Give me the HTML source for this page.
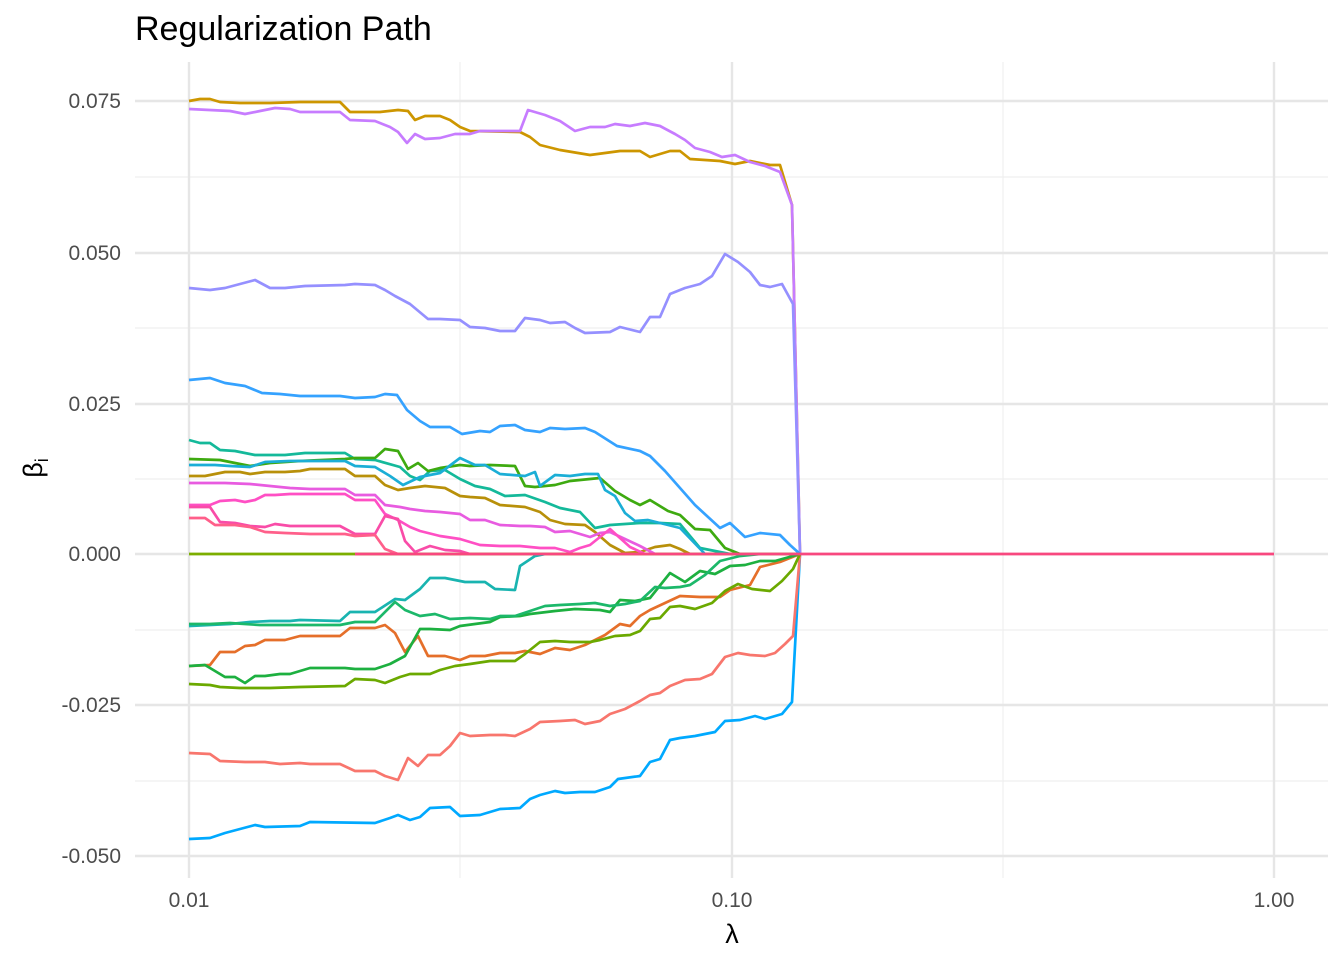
<!DOCTYPE html>
<html><head><meta charset="utf-8"><style>
body{margin:0;background:#fff;}
svg{display:block;font-family:"Liberation Sans",sans-serif;}
</style></head><body>
<svg width="1344" height="960" viewBox="0 0 1344 960" xmlns="http://www.w3.org/2000/svg">
<rect width="1344" height="960" fill="#fff"/>
<g stroke="#efefef" stroke-width="1.2">
<line x1="135" y1="177" x2="1328" y2="177"/><line x1="135" y1="328" x2="1328" y2="328"/>
<line x1="135" y1="479" x2="1328" y2="479"/><line x1="135" y1="630" x2="1328" y2="630"/>
<line x1="135" y1="781" x2="1328" y2="781"/>
<line x1="460" y1="62" x2="460" y2="878"/><line x1="1003" y1="62" x2="1003" y2="878"/>
</g>
<g stroke="#e6e6e6" stroke-width="2.4">
<line x1="135" y1="101" x2="1328" y2="101"/><line x1="135" y1="253" x2="1328" y2="253"/>
<line x1="135" y1="404" x2="1328" y2="404"/><line x1="135" y1="554" x2="1328" y2="554"/>
<line x1="135" y1="705" x2="1328" y2="705"/><line x1="135" y1="856" x2="1328" y2="856"/>
<line x1="189" y1="62" x2="189" y2="878"/><line x1="732" y1="62" x2="732" y2="878"/>
<line x1="1274" y1="62" x2="1274" y2="878"/>
</g>
<g fill="none" stroke-width="2.7" stroke-linejoin="round">
<polyline stroke="#7CAE00" points="189,554 800,554"/>
<polyline stroke="#CD9600" points="189,101 200,99 210,99 220,102 240,103 270,103 300,102 340,102 350,112 380,112 398,110 408,111 415,120 425,116 440,116 450,120 460,127 470,131 520,132 530,137 540,145 560,150 590,155 620,151 640,151 650,157 670,151 680,151 690,159 720,161 735,164 750,161 770,165 780,165 792,205 800,554"/>
<polyline stroke="#C77CFF" points="189,109 230,111 245,114 260,111 275,108 290,109 300,112 340,112 350,120 375,121 390,127 398,132 407,143 415,134 425,139 440,138 455,134 470,134 480,131 520,131 528,110 545,115 560,121 575,131 590,127 605,127 615,124 630,126 645,123 660,126 675,134 685,140 695,148 710,152 722,157 735,155 750,162 765,166 780,172 792,205 800,554"/>
<polyline stroke="#9590FF" points="189,288 210,290 225,288 240,284 255,280 270,288 285,288 305,286 345,285 355,284 375,285 385,290 395,296 410,304 428,319 440,319 460,320 470,327 485,328 500,331 515,331 525,318 540,320 550,323 565,322 575,328 585,333 610,332 620,327 640,332 650,317 660,317 670,294 685,288 700,284 712,276 725,254 738,262 750,272 760,285 770,287 782,284 793,304 800,554"/>
<polyline stroke="#35A2FF" points="189,380 210,378 225,383 245,386 262,393 280,394 300,396 340,396 355,398 375,397 385,394 397,395 407,410 420,421 430,427 450,427 462,434 480,431 490,432 500,426 515,425 525,430 540,432 550,428 565,429 585,428 595,432 617,446 640,451 650,456 665,471 680,488 695,505 720,528 730,523 745,537 760,533 780,535 790,545 800,554"/>
<polyline stroke="#00A9FF" points="189,839 210,838 225,833 240,829 255,825 265,827 300,826 310,822 375,823 390,818 398,815 410,820 420,817 430,808 450,807 460,816 480,815 500,809 520,808 530,799 540,795 555,791 565,793 580,792 595,792 610,787 618,779 640,776 650,762 660,759 670,740 680,738 695,736 715,732 725,721 740,720 755,716 765,719 782,714 792,702 800,554"/>
<polyline stroke="#F8766D" points="189,753 210,754 220,761 245,762 265,762 280,764 300,763 310,764 340,764 355,771 375,771 385,776 398,780 408,758 418,766 428,755 440,755 450,746 460,733 470,736 490,735 505,735 515,736 530,729 540,722 560,721 575,720 585,724 600,721 610,714 625,709 640,701 650,695 660,693 670,686 685,680 700,679 712,674 725,657 738,653 750,655 765,656 775,653 785,644 793,636 800,554"/>
<polyline stroke="#E56F2A" points="189,666 210,665 220,652 235,652 245,646 255,645 265,640 285,640 300,636 310,636 340,636 350,628 375,628 385,625 395,633 405,652 418,636 428,656 445,656 460,660 470,656 485,656 500,653 515,653 525,651 540,654 555,648 570,650 585,645 605,635 620,624 630,626 640,616 650,610 665,603 680,596 700,597 720,597 730,590 750,585 760,567 780,562 800,554"/>
<polyline stroke="#1DB040" points="189,666 205,665 225,677 235,677 245,683 255,676 265,676 280,674 290,674 310,668 345,668 355,669 375,669 390,664 405,656 420,629 430,629 450,630 460,626 475,624 490,622 500,617 520,616 530,614 555,611 575,609 600,610 610,612 620,600 635,601 650,598 670,573 685,582 700,571 715,574 730,566 745,565 760,561 775,561 800,554"/>
<polyline stroke="#6BA900" points="189,684 210,685 220,687 240,688 270,688 300,687 345,686 355,679 375,680 385,683 400,677 410,674 430,674 440,670 455,666 470,664 490,661 515,661 525,654 540,642 555,641 570,642 590,642 600,640 615,636 630,635 640,631 650,619 660,618 670,607 680,606 695,609 712,603 725,591 738,584 752,589 770,591 782,581 793,569 800,554"/>
<polyline stroke="#19B4B0" points="189,626 230,624 250,622 270,621 290,621 300,620 340,621 350,612 375,612 395,599 405,600 420,589 430,578 445,578 465,582 485,582 495,589 515,590 520,566 535,556 545,554"/>
<polyline stroke="#1CB86A" points="189,624 210,624 230,623 260,625 300,625 340,625 355,622 375,622 395,602 405,610 420,616 435,614 450,619 470,618 490,619 500,616 515,616 530,611 545,606 560,605 580,604 595,603 610,606 625,604 640,601 655,587 665,588 680,587 690,585 705,575 720,561 740,556 760,554"/>
<polyline stroke="#14B99A" points="189,440 200,443 210,443 220,450 235,451 255,455 285,455 305,453 345,453 355,459 375,460 400,467 410,476 420,480 430,471 445,470 460,479 475,486 490,489 505,496 525,495 545,502 560,508 580,512 595,528 610,525 640,523 660,523 680,524 700,548 730,554"/>
<polyline stroke="#3EAA10" points="189,459 220,460 235,463 250,466 270,463 300,461 345,459 355,458 375,458 385,449 398,451 408,469 418,463 428,471 440,468 460,465 470,466 490,465 515,466 525,486 535,487 555,485 570,481 590,479 600,478 615,491 630,500 640,505 650,500 668,511 680,515 695,529 710,530 725,548 740,554"/>
<polyline stroke="#1BAED6" points="189,465 215,465 230,466 250,467 265,462 290,461 345,461 355,466 375,467 390,476 403,485 420,477 440,473 460,458 475,465 485,465 500,474 525,476 535,472 540,486 555,475 570,476 585,474 598,474 605,490 615,496 625,513 635,521 648,520 660,523 680,528 705,554"/>
<polyline stroke="#B8900A" points="189,476 205,476 225,472 240,472 250,474 265,472 285,472 300,471 310,469 345,469 355,476 375,476 385,485 398,490 410,488 425,486 445,488 460,496 470,497 485,498 500,505 525,507 540,512 550,520 565,524 585,525 595,532 610,545 625,553 640,552 655,547 670,545 680,549 690,554"/>
<polyline stroke="#E85BE0" points="189,483 210,483 225,483 250,484 270,486 290,488 310,489 345,489 355,495 375,495 385,505 400,507 410,509 425,511 440,512 460,514 470,520 485,520 500,525 520,526 530,526 545,527 555,532 570,531 590,537 600,533 610,532 625,539 640,546 655,554"/>
<polyline stroke="#FF4FC4" points="189,505 210,505 220,501 235,500 245,502 255,500 265,495 275,495 290,494 310,494 345,494 355,500 375,500 385,514 398,520 410,527 420,531 440,536 460,539 480,545 500,546 520,546 540,548 555,548 570,552 580,548 590,545 600,537 610,529 620,538 630,547 645,554"/>
<polyline stroke="#F94CA8" points="189,507 210,507 220,522 235,523 250,526 265,527 275,524 290,526 310,526 340,526 355,534 375,534 385,516 398,519 405,541 415,552 430,546 445,550 460,551 470,554"/>
<polyline stroke="#FF5F8A" points="189,518 205,518 215,525 235,525 250,527 265,532 285,533 310,534 345,534 355,536 375,535 385,549 398,554"/>
<polyline stroke="#F8487F" points="355,554 1274,554"/>
</g>
<text x="135" y="40" font-size="34" fill="#000">Regularization Path</text>
<g font-size="21" fill="#4d4d4d" text-anchor="end">
<text x="121" y="108">0.075</text><text x="121" y="260">0.050</text>
<text x="121" y="411">0.025</text><text x="121" y="561">0.000</text>
<text x="121" y="712">-0.025</text><text x="121" y="863">-0.050</text>
</g>
<g font-size="21" fill="#4d4d4d" text-anchor="middle">
<text x="189" y="907">0.01</text><text x="732" y="907">0.10</text><text x="1274" y="907">1.00</text>
</g>
<text x="732" y="943" font-size="27" text-anchor="middle" fill="#000">λ</text>
<text transform="translate(42,468) rotate(-90)" font-size="27" text-anchor="middle" fill="#000">β<tspan font-size="18" dy="6">i</tspan></text>
</svg>
</body></html>
